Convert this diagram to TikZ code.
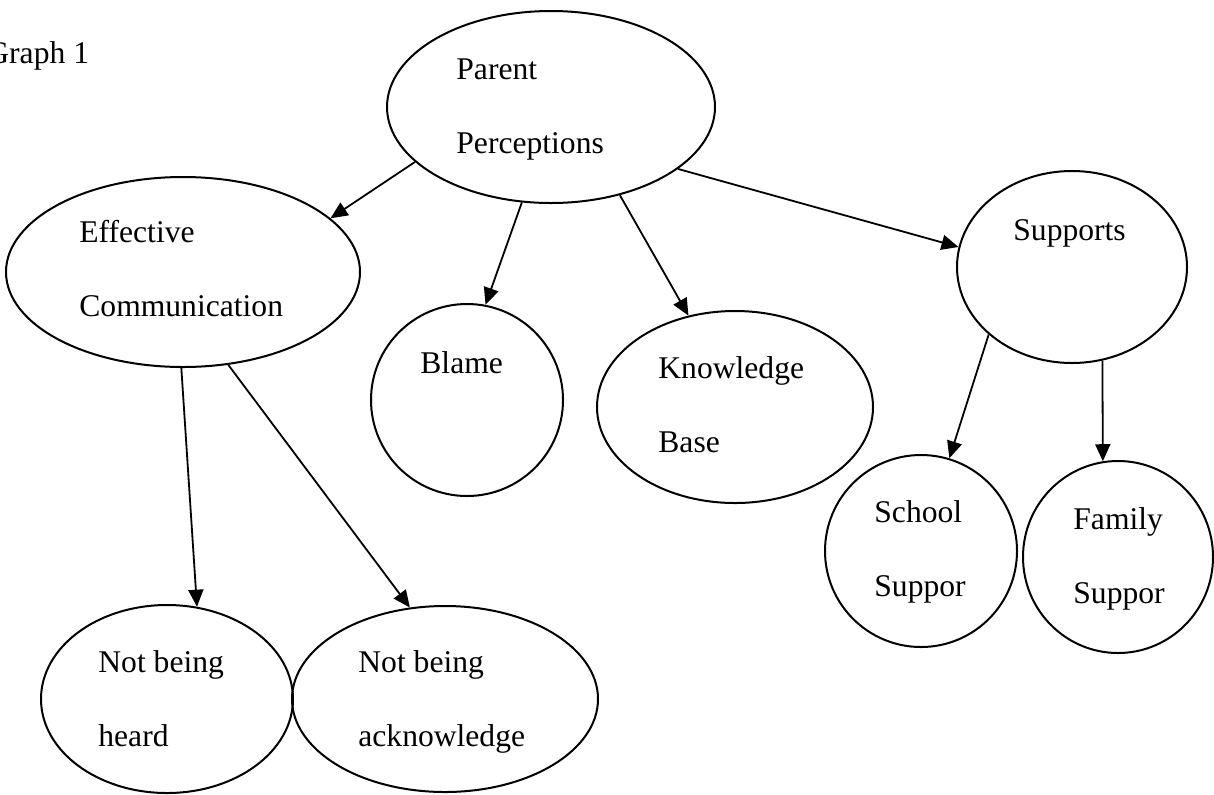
\documentclass[tikz,border=0pt]{standalone}
\usepackage{fontspec}
\setmainfont{Liberation Serif}
\usetikzlibrary{shapes.geometric,arrows.meta}
\tikzset{
  bubble/.style={draw, ellipse, line width=1pt, inner sep=0pt},
  lbl/.style={anchor=base west, align=left, inner sep=0pt, font=\fontsize{15.8}{37}\selectfont},
  link/.style={-{Triangle[length=8.5pt,width=7.5pt]}, line width=0.9pt}
}
\begin{document}
\begin{tikzpicture}[x=0.5pt,y=-0.5pt]
      \useasboundingbox (0,0) rectangle (1214,794);
      \draw
        (551,107) node[bubble, minimum width=164pt, minimum height=96pt] (pp){}
        (183,272) node[bubble, minimum width=177pt, minimum height=95pt] (ec){}
        (467,400) node[bubble, minimum width=96pt, minimum height=96pt] (blame){}
        (735,407) node[bubble, minimum width=138pt, minimum height=96pt] (kb){}
        (1072,267) node[bubble, minimum width=115pt, minimum height=96pt] (sup){}
        (921,551) node[bubble, minimum width=96pt, minimum height=96pt] (school){}
        (1118,557) node[bubble, minimum width=95pt, minimum height=96pt] (family){}
        (167,699) node[bubble, minimum width=126pt, minimum height=94pt] (heard){}
        (445,699) node[bubble, minimum width=153pt, minimum height=93pt] (ack){};
      \draw
        (-14,63) node[lbl] (title){Graph 1}
        (456,153) node[lbl] (ppText){Parent\\Perceptions}
        (79,316) node[lbl] (ecText){Effective\\Communication}
        (420,373) node[lbl] (blameText){Blame}
        (658,452) node[lbl] (kbText){Knowledge\\Base}
        (1013,240) node[lbl] (supText){Supports}
        (874,596) node[lbl] (schoolText){School\\Suppor}
        (1073,603) node[lbl] (familyText){Family\\Suppor}
        (98,746) node[lbl] (heardText){Not being\\heard}
        (358,746) node[lbl] (ackText){Not being\\acknowledge};
      \begin{scope}[link]
        \draw (pp.202) to (ec.20);
        \draw (pp.253) to (blame.79);
        \draw (pp.308) to (kb.117);
        \draw (pp.334) to (sup.170);
        \draw (ec.269) to (heard.72);
        \draw (ec.296) to (ack.111);
        \draw (sup.219) to (school.73);
        \draw (sup.288) to (family.99);
      \end{scope}
    \end{tikzpicture}
\end{document}
